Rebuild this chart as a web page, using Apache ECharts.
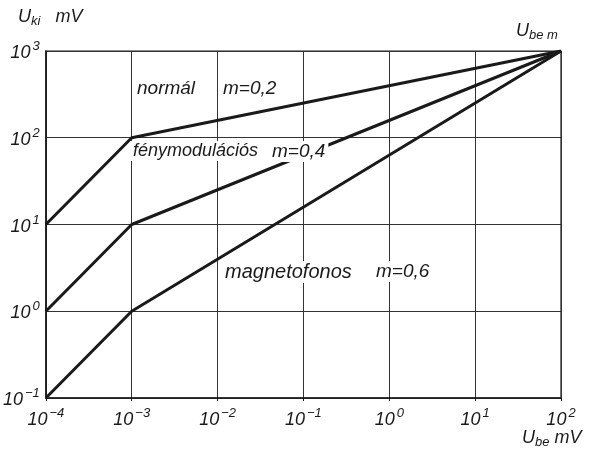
<!DOCTYPE html>
<html><head><meta charset="utf-8">
<script src="https://cdn.jsdelivr.net/npm/echarts@6/dist/echarts.min.js"></script>
<style>html,body{margin:0;padding:0;background:#fff}#c{width:589px;height:451px}</style>
</head><body><div id="c"></div>
<script>
const xPoints = [1e-4, 1e-3, 1e2];
const normal = [10, 100, 1000];
const fenymodulacios = [1, 10, 1000];
const magnetofonos = [0.1, 1, 1000];
const FONT = 'Liberation Sans';
const ink = '#1a1a1a';

function pairs(ys){ return xPoints.map((x,i)=>[x, ys[i]]); }
function expLabel(v){
  const e = Math.round(Math.log10(v));
  const s = e < 0 ? '\u2212' + Math.abs(e) : String(e);
  return '{b|10}{s|' + s + '}';
}
const rich = {
  b:{fontFamily:FONT,fontStyle:'italic',fontSize:18,color:ink,verticalAlign:'bottom'},
  s:{fontFamily:FONT,fontStyle:'italic',fontSize:13,color:ink,verticalAlign:'top',padding:[0,0,9,2]}
};
const chart = echarts.init(document.getElementById('c'));
const lineStyle = {color:ink,width:3};
const lab = (x,cy,t,fs)=>({type:'text',left:x-3,top:cy-12,z:10,style:{text:t,fontFamily:FONT,fontStyle:'italic',fontSize:fs||19,fill:ink,backgroundColor:'#fff',padding:[1,3]}});
const uRich = {u:{fontFamily:FONT,fontStyle:'italic',fontSize:18,fill:ink},k:{fontFamily:FONT,fontStyle:'italic',fontSize:13,fill:ink,padding:[9,0,0,0]}};
chart.setOption({
  animation:false,
  backgroundColor:'#fff',
  grid:{left:45,top:51,width:516,height:347,show:true,borderColor:ink,borderWidth:1.2},
  xAxis:{type:'log',logBase:10,min:1e-4,max:1e2,
    axisLine:{lineStyle:{color:ink,width:1.5}},
    axisTick:{show:true,length:3,lineStyle:{color:ink}},
    splitLine:{show:true,lineStyle:{color:'#333',width:1}},
    axisLabel:{formatter:expLabel,rich:rich,margin:9}},
  yAxis:{type:'log',logBase:10,min:0.1,max:1000,
    axisLine:{show:true,lineStyle:{color:ink,width:1.5}},
    axisTick:{show:false},
    splitLine:{show:true,lineStyle:{color:'#333',width:1}},
    axisLabel:{formatter:expLabel,rich:rich,margin:6}},
  series:[
    {type:'line',name:'normál',data:pairs(normal),symbol:'none',lineStyle:lineStyle,z:2},
    {type:'line',name:'fénymodulációs',data:pairs(fenymodulacios),symbol:'none',lineStyle:lineStyle,z:2},
    {type:'line',name:'magnetofonos',data:pairs(magnetofonos),symbol:'none',lineStyle:lineStyle,z:2}
  ],
  graphic:[
    {type:'text',left:18,top:8,style:{rich:uRich,text:'{u|U}{k|ki}{u|   mV}'}},
    {type:'text',left:516,top:22,style:{rich:uRich,text:'{u|U}{k|be m}'}},
    {type:'text',left:522,top:429,style:{rich:uRich,text:'{u|U}{k|be}{u| mV}'}},
    lab(137,90,'normál'), lab(223,90,'m=0,2'),
    lab(133,153,'fénymodulációs',18), lab(272,153,'m=0,4'),
    lab(225,273,'magnetofonos',20), lab(376,273,'m=0,6')
  ]
});
</script></body></html>
